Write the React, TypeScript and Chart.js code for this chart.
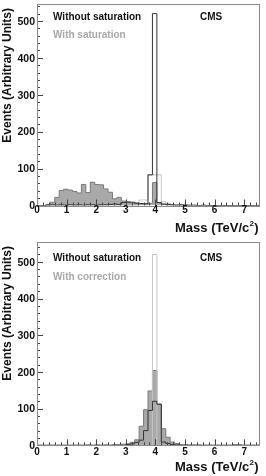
import React, { useEffect, useRef } from "react";
import { Chart, registerables } from "chart.js";

Chart.register(...registerables);

const BIN_WIDTH = 0.15;
const X_MAX = 7.5;
const xTickLabels = ["0", "1", "2", "3", "4", "5", "6", "7"];
const yTickLabels = ["0", "100", "200", "300", "400", "500"];

// ---- top panel (with saturation) ----
const topWithSaturation = [
  0, 0, 3, 9, 22, 41, 44, 42, 38, 34,
  57, 35, 63, 57, 56, 45, 36, 18, 22, 12,
  10, 7, 7, 5, 4, 6, 62, 8, 3, 2,
  1, 1, 0, 1, 0, 0, 0, 0, 0, 0,
  0, 0, 0, 0, 0, 0, 0, 0, 0, 0,
];
const topWithoutSaturation = [
  0, 0, 1, 2, 1, 2, 1, 2, 1, 2,
  1, 2, 2, 1, 2, 2, 3, 4, 3, 8,
  9, 9, 6, 5, 5, 83, 520, 8, 4, 3,
  2, 1, 2, 1, 1, 1, 0, 1, 0, 0,
  0, 0, 0, 0, 0, 0, 0, 0, 0, 0,
];
const topOutline = [
  0, 0, 0, 0, 0, 0, 0, 0, 0, 0,
  0, 0, 0, 0, 0, 0, 0, 0, 0, 0,
  0, 0, 0, 15, 15, 83, 83, 83, 10, 6,
  3, 0, 0, 0, 0, 0, 0, 0, 0, 0,
  0, 0, 0, 0, 0, 0, 0, 0, 0, 0,
];

// ---- bottom panel (with correction) ----
const bottomWithCorrection = [
  0, 0, 0, 0, 0, 0, 0, 0, 0, 0,
  0, 1, 0, 1, 0, 1, 0, 2, 2, 3,
  4, 8, 15, 52, 97, 148, 204, 112, 45, 22,
  9, 5, 2, 2, 1, 1, 1, 0, 0, 0,
  0, 0, 0, 0, 2, 2, 0, 0, 0, 0,
];
const bottomWithoutSaturation = [
  0, 0, 0, 0, 0, 0, 0, 0, 0, 0,
  0, 0, 0, 0, 0, 0, 0, 0, 0, 0,
  2, 4, 8, 14, 40, 95, 120, 112, 9, 5,
  2, 1, 0, 0, 0, 0, 0, 0, 0, 0,
  0, 0, 0, 0, 0, 0, 0, 0, 0, 0,
];
const bottomOutline = [
  0, 0, 0, 0, 0, 0, 0, 0, 0, 0,
  0, 0, 0, 0, 0, 0, 0, 0, 0, 0,
  0, 0, 0, 0, 0, 0, 520, 0, 0, 0,
  0, 0, 0, 0, 0, 0, 0, 0, 0, 0,
  0, 0, 0, 0, 0, 0, 0, 0, 0, 0,
];

const FONT = "'Liberation Sans', Arial, Helvetica, sans-serif";

function toSteps(values: number[]) {
  const pts = values.map((v, i) => ({ x: i * BIN_WIDTH, y: v }));
  pts.push({ x: values.length * BIN_WIDTH, y: values[values.length - 1] });
  return pts;
}

type PanelProps = {
  filled: number[];
  dark: number[];
  light: number[];
  label1: string;
  label2: string;
  yMax: number;
  bottomPad: number;
  legendY1: number;
  legendY2: number;
  xLabelBase: number;
  xTitleBase: number;
};

function Panel(p: PanelProps) {
  const ref = useRef<HTMLCanvasElement | null>(null);
  useEffect(() => {
    if (!ref.current) return;
    const decor = {
      id: "decor",
      afterDatasetsDraw(chart: any) {
        const { ctx, chartArea } = chart;
        const xs = chart.scales.x;
        const ys = chart.scales.y;
        ctx.save();
        // ticks
        ctx.strokeStyle = "#444";
        ctx.lineWidth = 1;
        ctx.beginPath();
        for (let k = 0; k * 0.2 <= X_MAX + 1e-9; k++) {
          const px = Math.round(xs.getPixelForValue(k * 0.2)) + 0.5;
          const len = k % 5 === 0 ? 6 : 3;
          ctx.moveTo(px, chartArea.bottom);
          ctx.lineTo(px, chartArea.bottom - len);
        }
        for (let k = 0; k * 20 <= p.yMax; k++) {
          const py = Math.round(ys.getPixelForValue(k * 20)) + 0.5;
          const len = k % 5 === 0 ? 6 : 3;
          ctx.moveTo(chartArea.left, py);
          ctx.lineTo(chartArea.left + len, py);
        }
        ctx.stroke();
        // frame
        ctx.strokeStyle = "#8a8a8a";
        ctx.strokeRect(
          Math.round(chartArea.left) + 0.5,
          Math.round(chartArea.top) + 0.5,
          Math.round(chartArea.right - chartArea.left),
          Math.round(chartArea.bottom - chartArea.top)
        );
        // tick labels
        ctx.fillStyle = "#111";
        ctx.textBaseline = "alphabetic";
        ctx.font = `bold 10px ${FONT}`;
        ctx.textAlign = "center";
        xTickLabels.forEach((t) => {
          ctx.fillText(t, xs.getPixelForValue(Number(t)), p.xLabelBase);
        });
        ctx.font = `bold 10.5px ${FONT}`;
        ctx.textAlign = "right";
        yTickLabels.forEach((t) => {
          ctx.fillText(t, chartArea.left - 2, ys.getPixelForValue(Number(t)) + 3.8);
        });
        // legend texts
        ctx.font = `bold 10px ${FONT}`;
        ctx.textBaseline = "middle";
        ctx.textAlign = "left";
        ctx.fillStyle = "#111";
        ctx.fillText(p.label1, 53, p.legendY1);
        ctx.fillText("CMS", 200, p.legendY1);
        ctx.fillStyle = "#a8a8a8";
        ctx.fillText(p.label2, 53, p.legendY2);
        // y title
        ctx.save();
        ctx.translate(11, 8);
        ctx.rotate(-Math.PI / 2);
        ctx.font = `bold 12px ${FONT}`;
        ctx.textAlign = "right";
        ctx.textBaseline = "alphabetic";
        ctx.fillStyle = "#111";
        ctx.fillText("Events (Arbitrary Units)", 0, 0);
        ctx.restore();
        // x title
        ctx.textBaseline = "alphabetic";
        ctx.textAlign = "left";
        ctx.fillStyle = "#111";
        const t1 = "Mass (TeV/c";
        const t3 = ")";
        ctx.font = `bold 8px ${FONT}`;
        const w2 = ctx.measureText("2").width;
        ctx.font = `bold 13px ${FONT}`;
        const w1 = ctx.measureText(t1).width;
        const w3 = ctx.measureText(t3).width;
        const right = 258.5;
        const x0 = right - w1 - w2 - w3 - 0.5;
        ctx.fillText(t1, x0, p.xTitleBase);
        ctx.font = `bold 8px ${FONT}`;
        ctx.fillText("2", x0 + w1 + 0.3, p.xTitleBase - 6);
        ctx.font = `bold 13px ${FONT}`;
        ctx.fillText(t3, x0 + w1 + w2 + 0.6, p.xTitleBase);
        ctx.restore();
      },
    };
    const chart = new Chart(ref.current, {
      type: "line",
      data: {
        datasets: [
          {
            label: p.label2,
            data: toSteps(p.filled),
            stepped: "before",
            fill: "origin",
            backgroundColor: "#a9a9a9",
            borderColor: "#7a7a7a",
            borderWidth: 1,
            pointRadius: 0,
            order: 3,
          },
          {
            label: "outline",
            data: toSteps(p.light),
            stepped: "before",
            fill: false,
            borderColor: "#c4c4c4",
            borderWidth: 1,
            pointRadius: 0,
            order: 2,
          },
          {
            label: p.label1,
            data: toSteps(p.dark),
            stepped: "before",
            fill: false,
            borderColor: "#333",
            borderWidth: 1,
            pointRadius: 0,
            order: 1,
          },
        ],
      },
      options: {
        animation: false,
        responsive: false,
        devicePixelRatio: 1,
        layout: { padding: { top: 4, right: 7, left: 0, bottom: 0 } },
        plugins: { legend: { display: false }, tooltip: { enabled: false } },
        scales: {
          x: {
            type: "linear",
            min: 0,
            max: X_MAX,
            grid: { display: false },
            border: { display: false },
            ticks: { display: false },
            afterFit: (s: any) => {
              s.height = p.bottomPad;
            },
          },
          y: {
            type: "linear",
            min: 0,
            max: p.yMax,
            grid: { display: false },
            border: { display: false },
            ticks: { display: false },
            afterFit: (s: any) => {
              s.width = 37;
            },
          },
        },
      } as any,
      plugins: [decor],
    });
    return () => chart.destroy();
  }, []);
  return (
    <canvas
      ref={ref}
      width={266}
      height={238}
      style={{ display: "block", width: 266, height: 238 }}
    />
  );
}

export default function App() {
  return (
    <div style={{ position: "absolute", left: 0, top: 0, width: 266, height: 476, background: "#fff" }}>
      <Panel
        filled={topWithSaturation}
        dark={topWithoutSaturation}
        light={topOutline}
        label1="Without saturation"
        label2="With saturation"
        yMax={546}
        bottomPad={32.5}
        legendY1={17}
        legendY2={35}
        xLabelBase={213.3}
        xTitleBase={231.5}
      />
      <Panel
        filled={bottomWithCorrection}
        dark={bottomWithoutSaturation}
        light={bottomOutline}
        label1="Without saturation"
        label2="With correction"
        yMax={554}
        bottomPad={30.7}
        legendY1={20}
        legendY2={39}
        xLabelBase={216.7}
        xTitleBase={233.3}
      />
    </div>
  );
}
